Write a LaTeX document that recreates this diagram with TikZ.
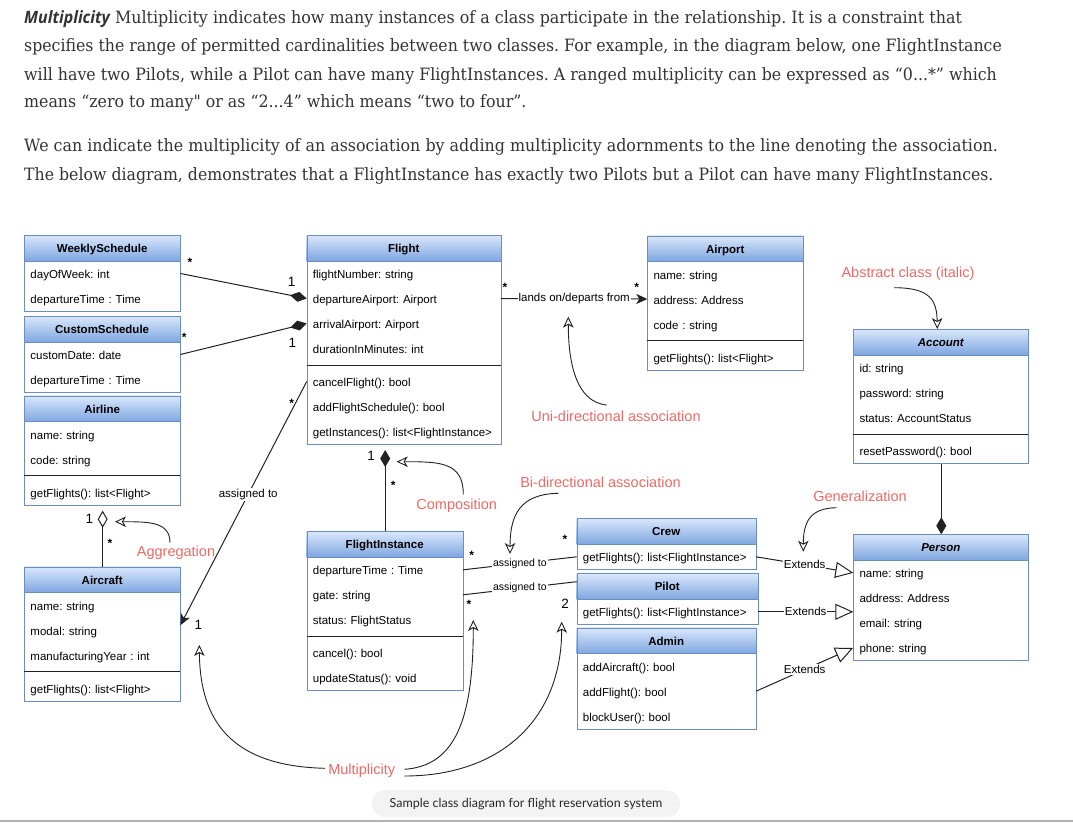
\documentclass[tikz,border=0pt]{standalone}
\usepackage{graphicx}
\usepackage{fontspec}
\setmainfont{Liberation Sans}
\newfontfamily\bodyserif{DejaVu Serif}
\newfontfamily\opensans{Open Sans}
\newfontfamily\capfont{Lato}
\usetikzlibrary{arrows.meta}
\frenchspacing

\definecolor{umlborder}{HTML}{6C8EBF}
\definecolor{hdrtop}{HTML}{DAE8FC}
\definecolor{hdrbot}{HTML}{7EA6E0}
\definecolor{annred}{HTML}{EA6B66}
\definecolor{bodytext}{HTML}{333333}
\definecolor{capbg}{HTML}{F3F3F3}
\definecolor{lineclr}{HTML}{222222}

\newsavebox\fitbox
\newlength\fitlen
\newcommand\fitto[2]{\sbox\fitbox{#2}\setlength\fitlen{\wd\fitbox}\pgfmathsetmacro\fitfac{#1/\fitlen}\global\let\lastfitfac\fitfac\scalebox{\fitfac}[1]{\usebox\fitbox}}
\newcommand\rowfont{\fontsize{11.5}{13}\selectfont}
\newcommand\smallrowfont{\fontsize{10.5}{12}\selectfont}

\tikzset{
  classframe/.style={draw=umlborder, line width=1pt, inner sep=0pt, anchor=north west},
  rowtext/.style={anchor=west, inner xsep=6pt, inner ysep=0pt, text height=10.5pt, text depth=0.5pt, align=left, font=\rowfont},
  classtitle/.style={font=\rowfont\bfseries, inner sep=0pt, anchor=base},
  divline/.style={draw=lineclr, line width=1pt},
  conn/.style={draw=lineclr, line width=1pt},
  compo/.style={conn, -{Diamond[length=17pt,width=10pt]}},
  aggr/.style={conn, -{Diamond[open,length=17pt,width=10pt,fill=white]}},
  assoc/.style={conn, -{Stealth[length=11pt,width=10pt,inset=3pt]}},
  gener/.style={conn, -{Triangle[open,length=18pt,width=16pt,fill=white]}},
  annarrow/.style={draw=lineclr, line width=0.9pt, -{Stealth[open,length=11pt,width=10.5pt,inset=3pt,fill=white]}},
  lbl/.style={fill=white, inner sep=1pt, font=\rowfont},
  slbl/.style={fill=white, inner sep=1pt, font=\smallrowfont},
  mult/.style={font=\fontsize{13.5}{14}\selectfont, inner sep=0pt},
  star/.style={font=\fontsize{12}{13}\selectfont\bfseries, inner sep=0pt},
  ann/.style={text=annred, font=\fontsize{14.5}{16}\selectfont, inner sep=1pt},
  bodyline/.style={anchor=base west, inner sep=0pt, font=\bodyserif\fontsize{17}{20}\selectfont, text=bodytext},
}

% #1 name #2 left #3 top #4 right #5 title #6 nAttr #7 nMeth #8 attrs #9 methods
\newcommand\umlclass[9]{%
  \pgfmathsetmacro\cL{#2}\pgfmathsetmacro\cT{#3}\pgfmathsetmacro\cR{#4}%
  \pgfmathsetmacro\cW{#4-#2}%
  \pgfmathsetmacro\cHB{#3+26}%
  \pgfmathsetmacro\cTW{#4-#2-12}%
  \pgfmathsetmacro\cDiv{\cHB+25*#6+4}%
  \ifnum#7>0 \pgfmathsetmacro\cBot{\cHB+25*#6+8+25*#7}\else\pgfmathsetmacro\cBot{\cHB+25*#6}\fi
  \pgfmathsetmacro\cH{\cBot-#3}%
  \shade[top color=hdrtop, bottom color=hdrbot] (\cL,\cT) rectangle (\cR,\cHB);
  \draw[umlborder, line width=1pt] (\cL,\cHB) -- (\cR,\cHB);
  \node[classframe, minimum width=\cW pt, minimum height=\cH pt] (#1) at (\cL,\cT) {};
  \node[classtitle] (#1-t) at ({(#2+#4)/2},{\cT+17.5}) {#5};
  \foreach \txt [count=\i] in {#8} {\node[rowtext, text width=\cTW pt] (#1-a\i) at (\cL,{\cHB+12.5+25*(\i-1)}) {\txt};}
  \ifnum#7>0
    \draw[divline] (\cL,\cDiv) -- (\cR,\cDiv);
    \foreach \txt [count=\i] in {#9} {\node[rowtext, text width=\cTW pt] (#1-m\i) at (\cL,{\cDiv+16.5+25*(\i-1)}) {\txt};}
  \fi
}

\begin{document}
\begin{tikzpicture}[x=1pt, y=-1pt]
\useasboundingbox (0,0) rectangle (1073,822);
\fill[white] (0,0) rectangle (1073,822);

% ---- body text
\node[bodyline] (t1) at (24,23.3) {\fitto{937.7}{{\opensans\bfseries\itshape Multiplicity} Multiplicity indicates how many instances of a class participate in the relationship. It is a constraint that}};
\node[bodyline] (t2) at (24,51.7) {\fitto{977.7}{specifies the range of permitted cardinalities between two classes. For example, in the diagram below, one FlightInstance}};
\node[bodyline] (t3) at (24,80) {\fitto{972.7}{will have two Pilots, while a Pilot can have many FlightInstances. A ranged multiplicity can be expressed as “0...*” which}};
\node[bodyline] (t4) at (24,107.3) {\scalebox{\lastfitfac}[1]{means “zero to many" or as “2...4” which means “two to four”.}};
\node[bodyline] (t5) at (24,151.7) {\fitto{973.7}{We can indicate the multiplicity of an association by adding multiplicity adornments to the line denoting the association.}};
\node[bodyline] (t6) at (24,180) {\fitto{969.3}{The below diagram, demonstrates that a FlightInstance has exactly two Pilots but a Pilot can have many FlightInstances.}};

% ---- classes
\umlclass{wsched}{24.3}{235}{180}{WeeklySchedule}{2}{0}{{dayOfWeek: int},{departureTime : Time}}{}
\umlclass{csched}{24.3}{316}{180}{CustomSchedule}{2}{0}{{customDate: date},{departureTime : Time}}{}
\umlclass{airline}{24.3}{395.7}{180}{Airline}{2}{1}{{name: string},{code: string}}{{getFlights(): list<Flight>}}
\umlclass{aircraft}{24.3}{566.7}{180}{Aircraft}{3}{1}{{name: string},{modal: string},{manufacturingYear : int}}{{getFlights(): list<Flight>}}
\umlclass{flight}{306.7}{235}{500.7}{Flight}{4}{3}{{flightNumber: string},{departureAirport: Airport},{arrivalAirport: Airport},{durationInMinutes: int}}{{cancelFlight(): bool},{addFlightSchedule(): bool},{getInstances(): list<FlightInstance>}}
\umlclass{airport}{647.3}{235.5}{803.3}{Airport}{3}{1}{{name: string},{address: Address},{code : string}}{{getFlights(): list<Flight>}}
\umlclass{account}{853.3}{329}{1028.3}{\itshape Account}{3}{1}{{id: string},{password: string},{status: AccountStatus}}{{resetPassword(): bool}}
\umlclass{finst}{306.7}{531.3}{462.7}{FlightInstance}{3}{2}{{departureTime : Time},{gate: string},{status: FlightStatus}}{{cancel(): bool},{updateStatus(): void}}
\umlclass{crew}{576.7}{518.3}{755.7}{Crew}{1}{0}{{getFlights(): list<FlightInstance>}}{}
\umlclass{pilot}{576.7}{573.3}{757.7}{Pilot}{1}{0}{{getFlights(): list<FlightInstance>}}{}
\umlclass{admin}{576.7}{627.7}{755.7}{Admin}{3}{0}{{addAircraft(): bool},{addFlight(): bool},{blockUser(): bool}}{}
\umlclass{person}{853.3}{534.3}{1028.3}{\itshape Person}{4}{0}{{name: string},{address: Address},{email: string},{phone: string}}{}

% ---- connectors
\draw[compo] (wsched-a1.east) -- (flight-a2.west);
\draw[compo] (csched-a1.east) -- (flight-a3.west);
\draw[assoc] (flight-m1.west) -- node[lbl, pos=0.463] (lblAc) {assigned to} ([yshift=5pt]aircraft-a2.east);
\draw[assoc] (flight-a2.east) -- node[lbl] (lblAp) {lands on/departs from} (airport-a2.west);
\draw[compo, shorten >=5pt] (finst.north) -- (finst.north |- flight.south);
\draw[conn] (finst-a1.east) -- node[slbl] (lblCr) {assigned to} (crew-a1.west);
\draw[conn] (finst-a2.east) -- node[slbl] (lblPi) {assigned to} ([yshift=5pt]pilot.west |- pilot-t);
\draw[gener] (crew-a1.east) -- node[lbl] (extA) {Extends} (person-a1.west);
\draw[gener] (pilot-a1.east) -- node[lbl] (extB) {Extends} (person.west |- pilot-a1);
\draw[gener] (admin-a2.east) -- node[lbl] (extC) {Extends} (person-a4.west);
\draw[compo] (account.south) -- (person.north);
\draw[aggr, shorten >=5pt] (aircraft.north) -- (airline.south);

% ---- multiplicities
\node[star] (m1) at (190,262) {*};
\node[mult] (m2) at (291.7,281.7) {1};
\node[star] (m3) at (184.3,337) {*};
\node[mult] (m4) at (292.3,343.3) {1};
\node[star] (m5) at (291.7,403.7) {*};
\node[mult] (m6) at (198.3,625) {1};
\node[star] (m7) at (505,287) {*};
\node[star] (m8) at (636.7,287) {*};
\node[mult] (m9) at (371,456) {1};
\node[star] (m10) at (393.3,485.3) {*};
\node[star] (m11) at (471.7,555.3) {*};
\node[star] (m12) at (565,539.3) {*};
\node[star] (m13) at (469,604.7) {*};
\node[mult] (m14) at (565,603.3) {2};
\node[mult] (m15) at (89.3,519.3) {1};
\node[star] (m16) at (110,543.7) {*};

% ---- annotations
\node[ann] (annAbs) at (908,273.3) {Abstract class (italic)};
\node[ann] (annUni) at (616,416.7) {Uni-directional association};
\node[ann] (annBi) at (600.5,482) {Bi-directional association};
\node[ann] (annComp) at (456.7,506) {Composition};
\node[ann] (annGen) at (860,496) {Generalization};
\node[ann] (annAgg) at (176,552.3) {Aggregation};
\node[ann] (annMul) at (361.7,771) {Multiplicity};

\coordinate (absS) at (894,287.7);
\coordinate (uniS) at (606.7,405);   \coordinate (uniE) at (568.3,316.7);
\coordinate (biS) at (558.3,493.3);  \coordinate (biE) at (510,554);
\coordinate (compS) at (463.3,494.3); \coordinate (compE) at (396.7,461.7);
\coordinate (genS) at (836.7,507.7); \coordinate (genE) at (803.3,551.7);
\coordinate (aggS) at (170,542.7);   \coordinate (aggE) at (115,521.7);
\coordinate (mulA) at (325,768.3);   \coordinate (mulAE) at (199.3,645);
\coordinate (mulB) at (404.3,769.3); \coordinate (mulBE) at (473.3,620);
\coordinate (mulC) at (404.3,776);   \coordinate (mulCE) at (561.7,621.7);

\draw[annarrow] (absS) .. controls (930,287.7) and (936.8,300) .. ([xshift=-4pt]account.north);
\draw[annarrow] (uniS) .. controls (575,402) and (568.3,360) .. (uniE);
\draw[annarrow] (biS) .. controls (520,494) and (510,515) .. (biE);
\draw[annarrow] (compS) .. controls (463.3,462) and (440,461.7) .. (compE);
\draw[annarrow] (genS) .. controls (810,508) and (803.3,522) .. (genE);
\draw[annarrow] (aggS) .. controls (170,522) and (150,521.7) .. (aggE);
\draw[annarrow] (mulA) .. controls (230,766) and (200,720) .. (mulAE);
\draw[annarrow] (mulB) .. controls (455,766) and (473.3,720) .. (mulBE);
\draw[annarrow] (mulC) .. controls (500,776) and (561.7,720) .. (mulCE);

% ---- caption
\node[fill=capbg, rounded corners=13pt, minimum width=308pt, minimum height=27pt, inner sep=0pt, font=\capfont\fontsize{12.5}{14}\selectfont, text=black!85] (caption) at (526,803.7) {Sample class diagram for flight reservation system};
\draw[black!30, line width=1.5pt] (0,821) -- (1073,821);
\end{tikzpicture}
\end{document}
